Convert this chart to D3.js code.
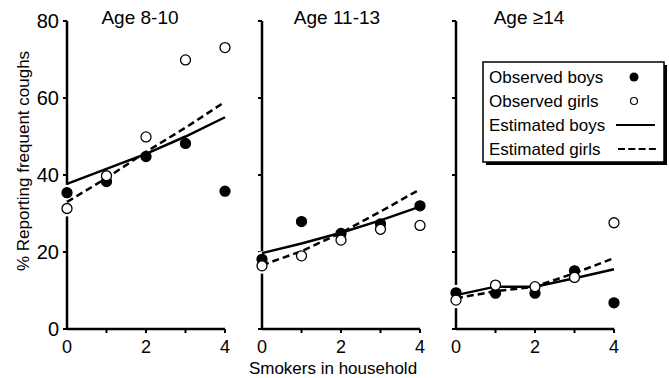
<!DOCTYPE html>
<html>
<head>
<meta charset="utf-8">
<script src="https://cdn.jsdelivr.net/npm/d3@7"></script>
<style>
  body { margin: 0; background: #fff; }
  svg { font-family: "Liberation Sans", Arial, sans-serif; }
</style>
</head>
<body>
<svg id="chart" width="669" height="378"></svg>
<script>
// data
const panels = ["Age 8-10", "Age 11-13", "Age \u226514"]
const smokers = [0, 1, 2, 3, 4]

const obsBoys = [
    [35.4, 38.3, 44.8, 48.2, 35.8],
    [18.1, 27.9, 24.8, 27.3, 32.0],
    [9.4, 9.3, 9.3, 15.1, 6.8]
]
const obsGirls = [
    [31.3, 39.8, 49.9, 69.9, 73.1],
    [16.4, 19.0, 23.1, 25.9, 26.9],
    [7.5, 11.4, 11.0, 13.4, 27.6]
]
const estBoys = [
    [37.7, 41.6, 45.5, 50.0, 55.0],
    [19.7, 22.2, 25.0, 28.2, 31.8],
    [8.8, 11.0, 11.0, 13.2, 15.5]
]
const estGirls = [
    [33.0, 39.2, 46.0, 52.3, 59.0],
    [16.6, 20.2, 25.0, 30.5, 36.3],
    [8.0, 9.8, 11.0, 14.5, 18.4]
]
const yTicks = [0, 20, 40, 60, 80]
const xTickLabels = [0, 2, 4]

const svg = d3.select("#chart")
const panelLeft = [67, 262, 456]
const panelWidth = 158

const y = d3.scaleLinear().domain([0, 80]).range([329, 21])

panels.forEach((title, i) => {
    let x = d3.scaleLinear().domain([0, 4]).range([panelLeft[i], panelLeft[i] + panelWidth])
    let g = svg.append("g")

    // x axis
    g.append("line")
        .attr("x1", x(0)).attr("x2", x(4))
        .attr("y1", y(0)).attr("y2", y(0))
        .attr("stroke", "#000").attr("stroke-width", 2.5)
    g.selectAll(".xtick")
        .data(smokers.slice(1))
        .join("line")
        .attr("x1", d => x(d)).attr("x2", d => x(d))
        .attr("y1", y(0)).attr("y2", y(0) + 4)
        .attr("stroke", "#000").attr("stroke-width", 2)
    g.selectAll(".xlab")
        .data(xTickLabels)
        .join("text")
        .attr("x", d => x(d))
        .attr("y", y(0) + 24)
        .attr("text-anchor", "middle")
        .attr("font-size", 18)
        .text(d => d)

    // y axis
    g.append("line")
        .attr("x1", x(0)).attr("x2", x(0))
        .attr("y1", y(80)).attr("y2", y(0) + 1)
        .attr("stroke", "#000").attr("stroke-width", 2.5)
    g.selectAll(".ytick")
        .data(yTicks)
        .join("line")
        .attr("x1", x(0) - 4).attr("x2", x(0))
        .attr("y1", d => y(d)).attr("y2", d => y(d))
        .attr("stroke", "#000").attr("stroke-width", 2)
    if (i === 0) {
        g.selectAll(".ylab")
            .data(yTicks)
            .join("text")
            .attr("x", x(0) - 8)
            .attr("y", d => y(d) + 7)
            .attr("text-anchor", "end")
            .attr("font-size", 20)
            .text(d => d)
    }

    // title
    g.append("text")
        .attr("x", i === 2 ? 529 : x(2) + (i === 0 ? -6 : -4))
        .attr("y", 24)
        .attr("text-anchor", "middle")
        .attr("font-size", 19)
        .text(title)

    // white halos break the axis behind the markers
    let pts = smokers.map((s, j) => ({s: s, v: obsBoys[i][j], boy: true}))
        .concat(smokers.map((s, j) => ({s: s, v: obsGirls[i][j], boy: false})))
    g.selectAll(".halo")
        .data(pts)
        .join("circle")
        .attr("cx", d => x(d.s)).attr("cy", d => y(d.v))
        .attr("r", 8).attr("fill", "#fff")

    // estimated lines
    let line = d3.line().x((d, j) => x(smokers[j])).y(d => y(d))
    g.append("path")
        .attr("d", line(estBoys[i]))
        .attr("fill", "none").attr("stroke", "#000").attr("stroke-width", 2.5)
    g.append("path")
        .attr("d", line(estGirls[i]))
        .attr("fill", "none").attr("stroke", "#000").attr("stroke-width", 2.5)
        .attr("stroke-dasharray", "7,4")

    // observed points
    g.selectAll(".pt")
        .data(pts)
        .join("circle")
        .attr("cx", d => x(d.s)).attr("cy", d => y(d.v))
        .attr("r", 5)
        .attr("fill", d => d.boy ? "#000" : "#fff")
        .attr("stroke", "#000").attr("stroke-width", 1.3)
})

// axis titles
svg.append("text")
    .attr("transform", "translate(29,161) rotate(-90)")
    .attr("text-anchor", "middle")
    .attr("font-size", 17)
    .text("% Reporting frequent coughs")
svg.append("text")
    .attr("x", 333).attr("y", 374)
    .attr("text-anchor", "middle")
    .attr("font-size", 17)
    .text("Smokers in household")

// legend
const legendItems = ["Observed boys", "Observed girls", "Estimated boys", "Estimated girls"]
let lg = svg.append("g")
lg.append("rect").attr("x", 486).attr("y", 65).attr("width", 181).attr("height", 100).attr("fill", "#000")
lg.append("rect").attr("x", 483).attr("y", 62).attr("width", 181).attr("height", 100)
    .attr("fill", "#fff").attr("stroke", "#000").attr("stroke-width", 1.5)
lg.selectAll("text")
    .data(legendItems)
    .join("text")
    .attr("x", 489)
    .attr("y", (d, i) => 83 + i * 24)
    .attr("font-size", 17)
    .text(d => d)
lg.append("circle").attr("cx", 634).attr("cy", 77).attr("r", 4.5).attr("fill", "#000")
lg.append("circle").attr("cx", 634).attr("cy", 101).attr("r", 3.5).attr("fill", "#fff")
    .attr("stroke", "#000").attr("stroke-width", 1.2)
lg.append("line").attr("x1", 616).attr("x2", 655).attr("y1", 125).attr("y2", 125)
    .attr("stroke", "#000").attr("stroke-width", 2.2)
lg.append("line").attr("x1", 618).attr("x2", 656).attr("y1", 149).attr("y2", 149)
    .attr("stroke", "#000").attr("stroke-width", 2.2).attr("stroke-dasharray", "7,3.3")
</script>
</body>
</html>
